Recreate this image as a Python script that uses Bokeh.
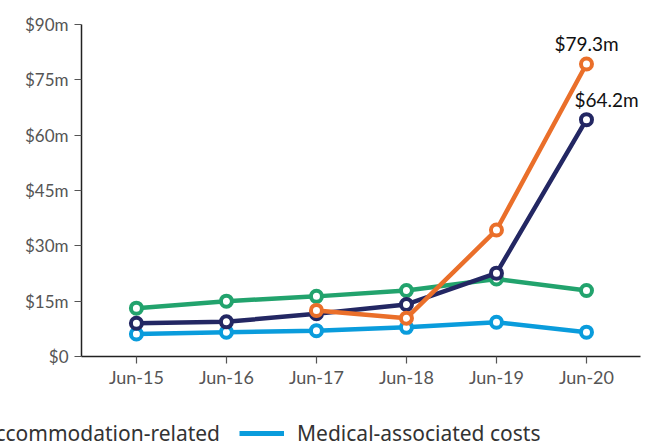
from bokeh.plotting import figure
from bokeh.layouts import column
from bokeh.models import Legend, LegendItem, ColumnDataSource
from bokeh.core.properties import value
from bokeh.embed import file_html
from bokeh.resources import INLINE

# ---- data ----
periods = ["Jun-15", "Jun-16", "Jun-17", "Jun-18", "Jun-19", "Jun-20"]
period_idx = [0, 1, 2, 3, 4, 5]
total_vals = [9.0, 9.4, 11.6, 14.1, 22.6, 64.2]
other_idx = [2, 3, 4, 5]
other_vals = [12.5, 10.4, 34.3, 79.3]
accom_vals = [13.1, 15.0, 16.3, 17.9, 21.0, 17.9]
medical_vals = [6.1, 6.6, 7.0, 7.9, 9.3, 6.6]
y_ticks = [0, 15, 30, 45, 60, 75, 90]
y_tick_labels = ["$0", "$15m", "$30m", "$45m", "$60m", "$75m", "$90m"]
accom_name = "Accommodation-related"
medical_name = "Medical-associated costs"

NAVY = "#232763"
ORANGE = "#EA6F2A"
GREEN = "#22A36D"
BLUE = "#0A9CDC"

W = 646
p = figure(width=W, height=400, output_backend="svg", toolbar_location=None,
           x_range=(-0.61, 5.6), y_range=(0, 90),
           min_border_left=81, min_border_right=6, min_border_top=24, min_border_bottom=44)
p.frame_align = False
p.outline_line_color = None
p.xgrid.grid_line_color = None
p.ygrid.grid_line_color = None
p.background_fill_color = "white"
p.border_fill_color = "white"

def series(xs, ys, color):
    src = ColumnDataSource(dict(x=xs, y=ys))
    ln = p.line("x", "y", source=src, line_color=color, line_width=4.5)
    p.scatter("x", "y", source=src, size=11, line_color=color, line_width=4,
              fill_color="white")
    return ln

l_med = series(period_idx, medical_vals, BLUE)
l_acc = series(period_idx, accom_vals, GREEN)
l_tot = series(period_idx, total_vals, NAVY)
l_oth = series(other_idx, other_vals, ORANGE)

# end labels
lab_src = ColumnDataSource(dict(
    x=[other_idx[-1], period_idx[-1]],
    y=[other_vals[-1], total_vals[-1]],
    t=["$%.1fm" % other_vals[-1], "$%.1fm" % total_vals[-1]],
    dx=[0, 20],
))
p.text("x", "y", text="t", source=lab_src, x_offset="dx", y_offset=-20,
       text_align="center", text_baseline="middle",
       text_font=value("Lato"), text_font_size="19px", text_color="#111111")

# axes
for ax in (p.xaxis[0], p.yaxis[0]):
    ax.axis_line_color = "#222222"
    ax.axis_line_width = 1.5
    ax.major_tick_line_color = "#555555"
    ax.major_tick_line_width = 1.2
    ax.major_tick_out = 7
    ax.major_tick_in = 0
    ax.minor_tick_line_color = None
    ax.major_label_text_font = "Lato"
    ax.major_label_text_color = "#555555"

p.xaxis.major_label_text_font_size = "18px"
p.yaxis.major_label_text_font_size = "17px"
p.xaxis.ticker = period_idx
p.xaxis.major_label_overrides = {i: s for i, s in zip(period_idx, periods)}
p.xaxis.major_label_standoff = 2
p.yaxis.ticker = y_ticks
p.yaxis.major_label_overrides = {v: s for v, s in zip(y_ticks, y_tick_labels)}
p.yaxis.major_label_standoff = 6

# ---- legend strip (separate figure below the chart) ----
lg = figure(width=W, height=47, output_backend="svg", toolbar_location=None,
            x_range=(0, 1), y_range=(0, 1), x_axis_location=None, y_axis_location=None,
            min_border_left=0, min_border_right=0, min_border_top=0, min_border_bottom=0)
lg.frame_align = False
lg.outline_line_color = None
lg.xgrid.grid_line_color = None
lg.ygrid.grid_line_color = None
# legend-only renderers: their points lie outside the strip's ranges
lg_acc = lg.line(x=[-2, -1], y=[-2, -2], line_color=GREEN, line_width=5)
lg_med = lg.line(x=[-2, -1], y=[-2, -2], line_color=BLUE, line_width=5)

legend = Legend(items=[LegendItem(label=accom_name, renderers=[lg_acc]),
                       LegendItem(label=medical_name, renderers=[lg_med])],
                location=(-76, 0), orientation="horizontal",
                glyph_width=45, glyph_height=26, label_height=26, label_standoff=13,
                spacing=19, padding=0, margin=0, border_line_alpha=0,
                background_fill_alpha=0,
                label_text_font="Noto Sans", label_text_font_size="21px",
                label_text_color="#333333")
lg.add_layout(legend, "center")

layout = column(p, lg, spacing=0)
open("out.html", "w").write(file_html(layout, INLINE))
